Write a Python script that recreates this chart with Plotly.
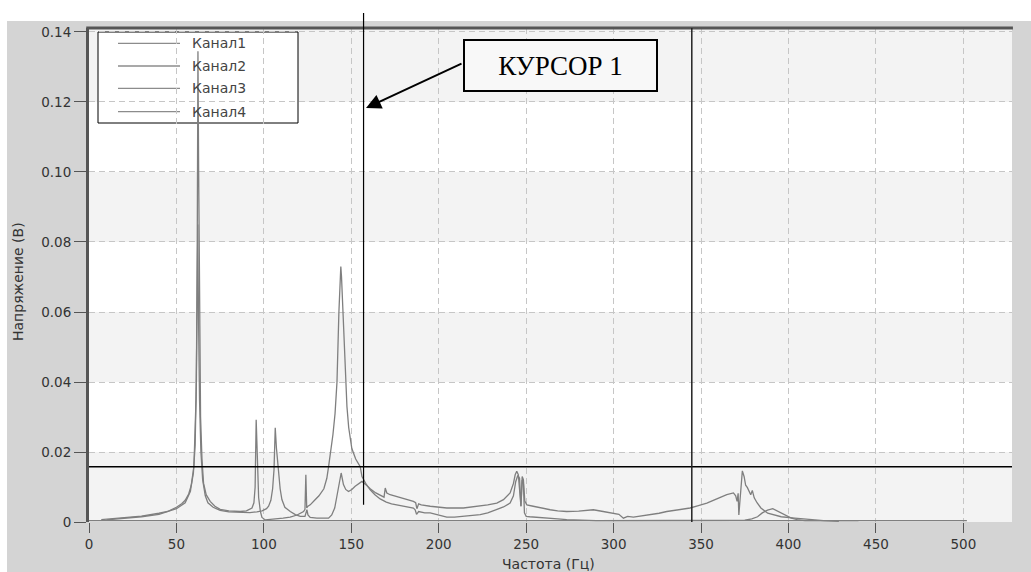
import plotly.graph_objects as go

# ---------------- data ----------------
ch1_f = [7, 12, 20, 30, 40, 45, 50, 53, 55, 57, 58.5, 59.7, 60.7, 61.4, 61.9, 62.3, 62.7, 63.2, 63.8, 64.6,
         65.5, 67, 69.3, 72, 75, 80, 86.5, 90, 93.2, 94.3, 95, 95.6, 96.2, 97, 98, 98.9, 100.8, 104, 107.5,
         111, 115, 119, 122.7, 123.5, 124, 124.5, 125.2, 126.5, 129, 131.5, 134.3, 136, 137, 138.3, 139.5,
         140.7, 141.8, 142.9, 143.6, 144, 144.4, 145.2, 146, 146.7, 147.5, 148.5, 150.3, 152.5, 155.1, 156.1,
         158.5, 160.8, 163.5, 166.5, 170, 173, 176.1, 181, 185.5, 186.5, 187.3, 188.5, 190, 192, 195.1, 200,
         204.6, 209, 214.1, 219, 223.7, 228, 233.2, 237, 240.8, 242.7, 244, 245.2, 246.2, 247, 247.7, 248.4,
         249, 250, 252, 256, 263.7, 268, 273.2, 280, 290]
ch1_v = [0.0007, 0.0009, 0.0012, 0.0017, 0.0025, 0.003, 0.0042, 0.0052, 0.0062, 0.008, 0.0105, 0.014, 0.022,
         0.04, 0.08, 0.1345, 0.1, 0.055, 0.03, 0.018, 0.0111, 0.0078, 0.0059, 0.0045, 0.0036, 0.0032, 0.003,
         0.0032, 0.004, 0.0055, 0.01, 0.0292, 0.018, 0.007, 0.003, 0.0013, 0.0006, 0.0007, 0.0009, 0.0011,
         0.0014, 0.002, 0.003, 0.0036, 0.0135, 0.004, 0.0045, 0.0049, 0.0062, 0.0075, 0.0095, 0.0125, 0.0158,
         0.02, 0.025, 0.031, 0.04, 0.06, 0.069, 0.073, 0.07, 0.06, 0.05, 0.04, 0.033, 0.027, 0.021, 0.018,
         0.0158, 0.013, 0.0108, 0.0092, 0.0078, 0.0066, 0.0057, 0.0052, 0.0049, 0.0045, 0.004, 0.0035, 0.0022,
         0.003, 0.0028, 0.0026, 0.0026, 0.002, 0.0014, 0.0014, 0.0016, 0.0018, 0.0021, 0.0026, 0.0035, 0.0043,
         0.0054, 0.0075, 0.0115, 0.0133, 0.0125, 0.0045, 0.012, 0.011, 0.0026, 0.0016, 0.0015, 0.0014, 0.0011,
         0.0009, 0.0007, 0.0005, 0.0004]

ch2_f = [10, 20, 30, 40, 50, 55, 58, 60, 61.2, 61.8, 62.2, 62.6, 63.2, 64, 65, 66.5, 68, 71, 75, 80, 86, 92,
         96, 99, 101.5, 102.7, 104, 105, 105.8, 106.5, 107.2, 108.4, 109.3, 110.3, 112, 115.1, 118, 120.8,
         123.5, 124.2, 124.6, 125.2, 126.5, 130.3, 135, 137, 138.8, 140.5, 141.8, 143.2, 144.2, 145.5, 146.8,
         148.4, 150.3, 152.2, 154.2, 156.1, 158.5, 160.8, 164, 167.5, 168.7, 169.4, 170.3, 172.2, 176.1, 181,
         185.5, 186.8, 187.5, 188.5, 190, 195.1, 200, 204.6, 214.1, 223.7, 228, 233.2, 237, 240.8, 242.7,
         243.7, 244.6, 245.5, 246.2, 247, 247.7, 248.4, 249.2, 250.4, 254, 258, 263.7, 268, 273.2, 280, 288.4,
         294, 299.9, 303, 305.6, 308, 311.3, 316, 320.9, 326, 330.4, 337, 343.7, 348, 353.3, 359, 364.7, 368.5,
         369.8, 370.6, 371.2, 371.6, 372.5, 373.6, 374.6, 375.5, 376.5, 377.5, 378.4, 379.3, 380.4, 382, 384.2,
         388.1, 392, 395.8, 403.6, 413.3, 420, 428.8]
ch2_v = [0.0006, 0.001, 0.0015, 0.0022, 0.0038, 0.0055, 0.0088, 0.016, 0.035, 0.06, 0.085, 0.06, 0.035, 0.02,
         0.012, 0.0075, 0.0055, 0.0042, 0.0033, 0.0029, 0.0027, 0.0027, 0.0029, 0.0032, 0.0038, 0.0045, 0.0062,
         0.0095, 0.015, 0.0269, 0.021, 0.014, 0.0095, 0.0064, 0.0042, 0.003, 0.0021, 0.0016, 0.0016, 0.0028,
         0.0035, 0.002, 0.0013, 0.0011, 0.0011, 0.0011, 0.002, 0.004, 0.0075, 0.011, 0.014, 0.0107, 0.0093,
         0.0087, 0.0093, 0.0102, 0.011, 0.0116, 0.0106, 0.0095, 0.0083, 0.0073, 0.0071, 0.0097, 0.0083, 0.0078,
         0.0073, 0.0066, 0.0059, 0.0055, 0.0038, 0.0052, 0.0049, 0.0045, 0.0042, 0.004, 0.004, 0.0045, 0.0049,
         0.0054, 0.0064, 0.0083, 0.011, 0.0135, 0.0145, 0.0135, 0.0085, 0.0045, 0.013, 0.0121, 0.006, 0.0049,
         0.0045, 0.004, 0.0035, 0.0032, 0.003, 0.0031, 0.0035, 0.003, 0.0026, 0.0022, 0.0011, 0.0016, 0.0014,
         0.0017, 0.0021, 0.0025, 0.003, 0.0034, 0.004, 0.0046, 0.0054, 0.0066, 0.0078, 0.0083, 0.0075, 0.0059,
         0.0082, 0.002, 0.009, 0.0146, 0.013, 0.0105, 0.0098, 0.0085, 0.0078, 0.009, 0.0069, 0.0055, 0.004,
         0.0025, 0.002, 0.0015, 0.0011, 0.0006, 0.0004, 0.0002]

ch3_f = [290, 320, 350, 375, 379, 382.3, 385, 388, 391, 393, 395.8, 398.5, 401.6, 405, 409.4, 420, 440]
ch3_v = [0.0004, 0.0004, 0.0004, 0.0005, 0.0009, 0.0015, 0.0026, 0.0034, 0.0038, 0.0033, 0.0025, 0.0017,
         0.0011, 0.0007, 0.0004, 0.0004, 0.0004]

ch4_f = [0, 100, 200, 300, 400, 502]
ch4_v = [0.0004, 0.0004, 0.0004, 0.0004, 0.0004, 0.0004]

channel_names = ["Канал1", "Канал2", "Канал3", "Канал4"]

x_ticks = [0, 50, 100, 150, 200, 250, 300, 350, 400, 450, 500]
y_ticks = [0, 0.02, 0.04, 0.06, 0.08, 0.10, 0.12, 0.14]
y_tick_text = ["0", "0.02", "0.04", "0.06", "0.08", "0.10", "0.12", "0.14"]

cursor1_freq = 157.0
cursor1_low = 0.0049
cursor2_freq = 344.7
cursor_level = 0.0158

x_title = "Частота (Гц)"
y_title = "Напряжение (В)"
cursor_label = "КУРСОР 1"

# ---------------- layout geometry ----------------
W, H = 1031, 572
ML, MR, MT, MB = 89, 19, 28, 50
PW, PH = W - ML - MR, H - MT - MB
X_RANGE = [0, 527.8]
Y_RANGE = [0, 0.14114]


def pxx(px):
    return (px - ML) / PW


def pxy(py):
    return (H - MB - py) / PH


LINE_COL = "#7f7f7f"
FONT = "DejaVu Sans"

fig = go.Figure()
for name, f, v in zip(channel_names, [ch1_f, ch2_f, ch3_f, ch4_f], [ch1_v, ch2_v, ch3_v, ch4_v]):
    fig.add_trace(go.Scatter(x=f, y=v, mode="lines", name=name, showlegend=False,
                             line=dict(color=LINE_COL, width=1.3)))

shapes = []
# white page strips outside the screenshot
shapes.append(dict(type="rect", xref="paper", yref="paper", x0=-0.2, x1=1.2, y0=pxy(21), y1=1.2,
                   fillcolor="white", line=dict(width=0), layer="below"))
shapes.append(dict(type="rect", xref="paper", yref="paper", x0=-0.2, x1=pxx(7), y0=-0.2, y1=1.2,
                   fillcolor="white", line=dict(width=0), layer="below"))
# alternating bands
for i, lo in enumerate(y_ticks[:-1]):
    if i % 2 == 0:
        hi = y_ticks[i + 1] if i + 2 < len(y_ticks) else Y_RANGE[1]
        shapes.append(dict(type="rect", xref="paper", yref="y", x0=0, x1=1, y0=lo, y1=hi,
                           fillcolor="#f3f3f3", line=dict(width=0), layer="below"))
# top frame
shapes.append(dict(type="line", xref="paper", yref="paper", x0=-0.003, x1=1.001, y0=1.0, y1=1.0,
                   line=dict(color="#555555", width=3), layer="above"))
# manual legend box
shapes.append(dict(type="rect", xref="paper", yref="paper", x0=pxx(98), x1=pxx(298), y0=pxy(123), y1=pxy(32),
                   fillcolor="white", line=dict(color="black", width=1), layer="between"))
legend_rows = [43.3, 66, 88.3, 111.7]
for ry in legend_rows:
    shapes.append(dict(type="line", xref="paper", yref="paper", x0=pxx(118), x1=pxx(180), y0=pxy(ry), y1=pxy(ry),
                       line=dict(color="#8c8c8c", width=1.3), layer="between"))
# cursors
shapes.append(dict(type="line", xref="paper", yref="y", x0=0, x1=1, y0=cursor_level, y1=cursor_level,
                   line=dict(color="black", width=1.5), layer="above"))
shapes.append(dict(type="line", xref="x", yref="paper", x0=cursor2_freq, x1=cursor2_freq, y0=0, y1=1,
                   line=dict(color="#222222", width=1.5), layer="above"))
shapes.append(dict(type="line", xref="x", yref="paper", x0=cursor1_freq, x1=cursor1_freq,
                   y0=cursor1_low / Y_RANGE[1], y1=pxy(13),
                   line=dict(color="black", width=1.2), layer="above"))

annotations = []
for name, ry in zip(channel_names, legend_rows):
    annotations.append(dict(text=name, xref="paper", yref="paper", x=pxx(190), y=pxy(ry),
                            xanchor="left", yanchor="middle", showarrow=False,
                            font=dict(family=FONT, size=14, color="#444444")))
annotations.append(dict(text=cursor_label, xref="paper", yref="paper", x=pxx(560.5), y=pxy(65.5),
                        xanchor="center", yanchor="middle", showarrow=False, width=191, height=49,
                        borderpad=0, borderwidth=2, bordercolor="black", bgcolor="#f8f8f8",
                        font=dict(family="Liberation Serif", size=27, color="black")))
annotations.append(dict(text="", xref="paper", yref="paper", x=pxx(366), y=pxy(108),
                        ax=97, ay=-45, showarrow=True, arrowhead=2, arrowsize=1.5, arrowwidth=2,
                        arrowcolor="black", standoff=0))
annotations.append(dict(text=x_title, xref="paper", yref="paper", x=pxx(548.5), y=pxy(564),
                        xanchor="center", yanchor="middle", showarrow=False,
                        font=dict(family=FONT, size=14, color="#333333")))
annotations.append(dict(text=y_title, xref="paper", yref="paper", x=pxx(18), y=pxy(282),
                        xanchor="center", yanchor="middle", showarrow=False, textangle=-90,
                        font=dict(family=FONT, size=14, color="#333333")))

fig.update_layout(
    width=W, height=H,
    margin=dict(l=ML, r=MR, t=MT, b=MB, pad=0),
    paper_bgcolor="#d4d4d4",
    plot_bgcolor="white",
    shapes=shapes,
    annotations=annotations,
    showlegend=False,
    xaxis=dict(range=X_RANGE, tickvals=x_ticks, ticks="outside", ticklen=10, tickcolor="#555555",
               tickwidth=1, showgrid=True, gridcolor="#c6c6c6", griddash="6px,4px", gridwidth=1,
               zeroline=False, showline=False,
               tickfont=dict(family=FONT, size=13.5, color="#333333")),
    yaxis=dict(range=Y_RANGE, tickvals=y_ticks, ticktext=y_tick_text, ticks="outside", ticklen=12,
               tickcolor="#555555", tickwidth=1, showgrid=True, gridcolor="#c6c6c6", griddash="6px,4px",
               gridwidth=1, zeroline=False, showline=True, linecolor="#555555", linewidth=3,
               tickfont=dict(family=FONT, size=13.5, color="#333333")),
)

fig.write_html("out.html", config={"displayModeBar": False})
